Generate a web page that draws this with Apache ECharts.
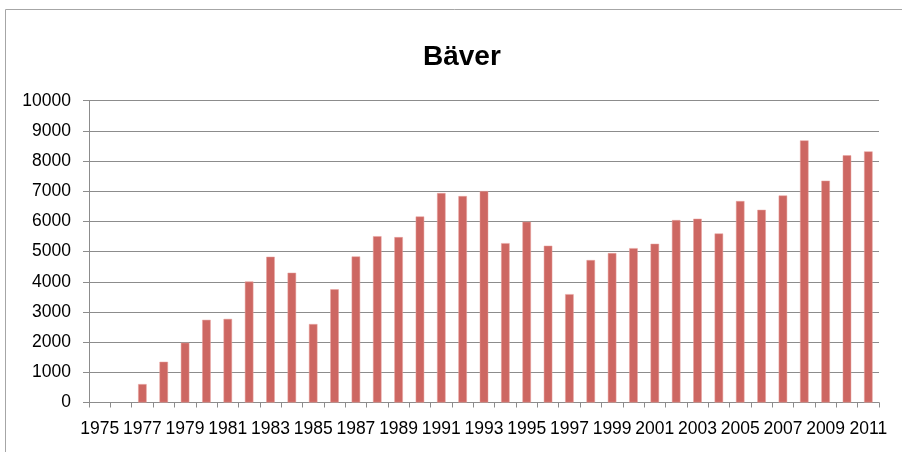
<!DOCTYPE html>
<html>
<head>
<meta charset="utf-8">
<script src="https://cdn.jsdelivr.net/npm/echarts@6/dist/echarts.min.js"></script>
<style>html,body{margin:0;padding:0;background:#fff;}#c{width:902px;height:452px;}</style>
</head>
<body>
<div id="c"></div>
<script>
var years = ['1975','1976','1977','1978','1979','1980','1981','1982','1983','1984','1985','1986','1987','1988','1989','1990','1991','1992','1993','1994','1995','1996','1997','1998','1999','2000','2001','2002','2003','2004','2005','2006','2007','2008','2009','2010','2011'];
var baver = [null,null,610,1350,1980,2740,2770,4010,4830,4300,2600,3750,4840,5510,5480,6165,6940,6840,7005,5280,5990,5195,3590,4720,4950,5115,5260,6045,6090,5600,6675,6385,6860,8685,7350,8190,8320];
var yMin = 0, yMax = 10000, yStep = 1000;

var chart = echarts.init(document.getElementById('c'), null, {renderer:'canvas'});
var font = 'Liberation Sans';
chart.setOption({
  animation: false,
  backgroundColor: '#ffffff',
  title: {
    text: 'Bäver',
    left: 418,
    top: 38,
    textStyle: {fontFamily: font, fontWeight: 'bold', fontSize: 28, color: '#000'}
  },
  graphic: [{
    type: 'rect',
    shape: {x: 5.5, y: 9.5, width: 1000, height: 1000},
    style: {fill: 'none', stroke: '#a6a6a6', lineWidth: 1},
    silent: true
  }],
  grid: {left: 89, right: 23, top: 100.7, bottom: 49.5, containLabel: false},
  xAxis: {
    type: 'category',
    data: years,
    boundaryGap: true,
    axisLine: {show: true, lineStyle: {color: '#8c8c8c', width: 1}},
    axisTick: {show: true, interval: 0, length: 5, alignWithLabel: false, lineStyle: {color: '#8c8c8c'}},
    axisLabel: {interval: 1, margin: 18, fontFamily: font, fontSize: 17.5, color: '#000'},
    splitLine: {show: false}
  },
  yAxis: {
    type: 'value',
    min: yMin, max: yMax, interval: yStep,
    axisLine: {show: true, lineStyle: {color: '#8c8c8c', width: 1}},
    axisTick: {show: true, length: 6, lineStyle: {color: '#8c8c8c'}},
    axisLabel: {margin: 18, fontFamily: font, fontSize: 17.5, color: '#000', formatter: function (v) { return String(v); }},
    splitLine: {show: true, lineStyle: {color: '#8c8c8c', width: 1}}
  },
  series: [{
    type: 'bar',
    data: baver,
    barWidth: 8.5,
    itemStyle: {color: '#cd6762', borderColor: '#e8a29e', borderWidth: 0.5}
  }]
});
</script>
</body>
</html>
